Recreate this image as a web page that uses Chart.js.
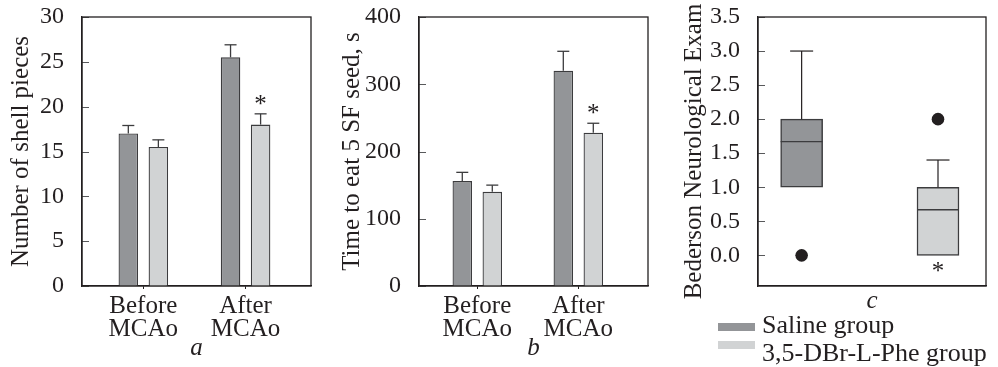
<!DOCTYPE html>
<html>
<head>
<meta charset="utf-8">
<script src="https://cdn.jsdelivr.net/npm/chart.js@4.4.1/dist/chart.umd.min.js"></script>
<style>
  html, body { margin: 0; padding: 0; background: #fff; }
  #wrap { position: relative; width: 998px; height: 367px; overflow: hidden; font-family: "Liberation Serif", "Times New Roman", serif; color: #231f20; }
  canvas { position: absolute; top: 0; }
  #chartA { left: 0; }
  #chartB { left: 330px; }
  #chartC { left: 660px; }
  .legend-swatch { position: absolute; left: 718px; width: 37px; height: 8px; }
  .legend-text { position: absolute; left: 762px; font-size: 26px; line-height: 28px; white-space: nowrap; }
</style>
</head>
<body>
<div id="wrap">
  <canvas id="chartA" width="330" height="367"></canvas>
  <canvas id="chartB" width="330" height="367"></canvas>
  <canvas id="chartC" width="338" height="367"></canvas>
  <div id="legend"></div>
</div>
<script>
const categories = [['Before', 'MCAo'], ['After', 'MCAo']];
const groups = ['Saline group', '3,5-DBr-L-Phe group'];
const groupColors = ['#939598', '#d1d3d4'];

// a - number of shell pieces
const shellSaline = [17.0, 25.5];
const shellSalineErr = [0.9, 1.4];
const shellDbr = [15.5, 18.0];
const shellDbrErr = [0.8, 1.2];
const shellSignif = [false, true];

// b - time to eat 5 SF seeds
const seedSaline = [156, 320];
const seedSalineErr = [13, 29];
const seedDbr = [140, 228];
const seedDbrErr = [10, 14];
const seedSignif = [false, true];

// c - Bederson neurological exam (box plot)
const bedMin = [1.0, 0.0];
const bedQ1 = [1.0, 0.0];
const bedMedian = [1.67, 0.67];
const bedQ3 = [2.0, 1.0];
const bedMax = [3.0, 1.4];
const bedOutliers = [[0.0], [2.0]];
const bedSignif = [false, true];

const INK = '#231f20';
const EDGE = '#3c3c3e';
const FONT = '"Liberation Serif", "Times New Roman", serif';

Chart.defaults.font.family = FONT;
Chart.defaults.color = INK;

const toPoints = values => values.map((v, i) => ({ x: i, y: v }));

function strokeLine(ctx, x1, y1, x2, y2) {
    ctx.beginPath();
    ctx.moveTo(x1, y1);
    ctx.lineTo(x2, y2);
    ctx.stroke();
}

// box round the plot + short ticks pointing inside
const framePlugin = {
    id: 'plotFrame',
    afterDraw(chart) {
        const ctx = chart.ctx;
        const a = chart.chartArea;
        const y = chart.scales.y;
        ctx.save();
        ctx.strokeStyle = '#58595b';
        ctx.lineWidth = 1;
        y.ticks.forEach((t, i) => {
            const py = Math.round(y.getPixelForTick(i)) + 0.5;
            strokeLine(ctx, a.left, py, a.left + 7, py);
        });
        ctx.strokeStyle = INK;
        ctx.lineWidth = 1.3;
        ctx.strokeRect(a.left, a.top, a.right - a.left, a.bottom - a.top);
        ctx.restore();
    }
};

const errorBarPlugin = {
    id: 'errorBars',
    afterDatasetsDraw(chart, args, opts) {
        const { ctx, scales: { y } } = chart;
        ctx.save();
        ctx.strokeStyle = EDGE;
        ctx.lineWidth = 1.3;
        ctx.fillStyle = INK;
        ctx.font = '25px ' + FONT;
        ctx.textAlign = 'center';
        ctx.textBaseline = 'alphabetic';
        chart.data.datasets.forEach((ds, i) => {
            const errs = opts.errors[i];
            chart.getDatasetMeta(i).data.forEach((bar, j) => {
                const top = y.getPixelForValue(ds.data[j].y + errs[j]);
                strokeLine(ctx, bar.x, bar.y, bar.x, top);
                strokeLine(ctx, bar.x - 6, top, bar.x + 6, top);
                if (i === opts.markDataset && opts.signif[j]) {
                    ctx.fillText('*', bar.x, top - 2);
                }
            });
        });
        ctx.restore();
    }
};

// whiskers, medians and the significance mark of panel c
const boxPlugin = {
    id: 'boxParts',
    afterDatasetsDraw(chart) {
        const { ctx, scales: { y } } = chart;
        const boxes = chart.getDatasetMeta(0).data;
        ctx.save();
        ctx.fillStyle = INK;
        ctx.font = '25px ' + FONT;
        ctx.textAlign = 'center';
        boxes.forEach((box, i) => {
            const cx = box.x;
            const half = box.width / 2;
            const q1 = y.getPixelForValue(bedQ1[i]);
            const q3 = y.getPixelForValue(bedQ3[i]);
            const lo = y.getPixelForValue(bedMin[i]);
            const hi = y.getPixelForValue(bedMax[i]);

            ctx.strokeStyle = EDGE;
            ctx.lineWidth = 1.3;
            const med = y.getPixelForValue(bedMedian[i]);
            strokeLine(ctx, cx - half, med, cx + half, med);

            ctx.strokeStyle = INK;
            ctx.lineWidth = 1.2;
            if (hi < q3 - 0.5) {
                strokeLine(ctx, cx, q3, cx, hi);
                strokeLine(ctx, cx - 11.5, hi, cx + 11.5, hi);
            }
            if (lo > q1 + 0.5) {
                strokeLine(ctx, cx, q1, cx, lo);
                strokeLine(ctx, cx - 11.5, lo, cx + 11.5, lo);
            }
            if (bedSignif[i]) {
                ctx.fillText('*', cx, lo + 24);
            }
        });
        ctx.restore();
    }
};

function barPanel(id, cfg) {
    return new Chart(document.getElementById(id), {
        type: 'bar',
        data: {
            datasets: [
                { label: groups[0], data: toPoints(cfg.saline), backgroundColor: groupColors[0] },
                { label: groups[1], data: toPoints(cfg.dbr), backgroundColor: groupColors[1] }
            ]
        },
        options: {
            responsive: false,
            animation: false,
            layout: { padding: cfg.padding },
            datasets: {
                bar: { borderColor: EDGE, borderWidth: 1.3, categoryPercentage: cfg.catPct, barPercentage: 0.65 }
            },
            plugins: {
                legend: { display: false },
                tooltip: { enabled: false },
                errorBars: { errors: cfg.errors, signif: cfg.signif, markDataset: 1 }
            },
            scales: {
                x: {
                    type: 'linear',
                    min: cfg.xMin,
                    max: cfg.xMax,
                    offset: false,
                    afterFit: s => { s.height = 81; },
                    border: { display: true, color: INK, width: 1.3 },
                    grid: { drawOnChartArea: false, tickLength: 3, color: INK, offset: false },
                    ticks: {
                        stepSize: 1,
                        includeBounds: false,
                        autoSkip: false,
                        maxRotation: 0,
                        padding: 6,
                        font: { size: 25, lineHeight: 0.92 },
                        callback: v => categories[v]
                    },
                    title: {
                        display: true,
                        text: cfg.letter,
                        font: { size: 25, style: 'italic' },
                        padding: { top: 0, bottom: 4 }
                    }
                },
                y: {
                    min: 0,
                    max: cfg.yMax,
                    afterFit: s => { s.width = cfg.yWidth; },
                    border: { display: true, color: INK, width: 1.3 },
                    grid: { display: false },
                    ticks: {
                        stepSize: cfg.yStep,
                        includeBounds: false,
                        autoSkip: false,
                        padding: 10,
                        font: { size: 24, lineHeight: 0.5 }
                    },
                    title: {
                        display: true,
                        text: cfg.yTitle,
                        font: { size: 25 },
                        padding: { top: cfg.titlePad, bottom: 0 }
                    }
                }
            }
        },
        plugins: [framePlugin, errorBarPlugin]
    });
}

barPanel('chartA', {
    saline: shellSaline,
    dbr: shellDbr,
    errors: [shellSalineErr, shellDbrErr],
    signif: shellSignif,
    letter: 'a',
    yTitle: 'Number of shell pieces',
    yMax: 30,
    yStep: 5,
    yWidth: 82,
    titlePad: 6,
    xMin: -0.6,
    xMax: 1.64,
    catPct: 0.588,
    padding: { left: 0, top: 17, right: 19, bottom: 0 }
});

barPanel('chartB', {
    saline: seedSaline,
    dbr: seedDbr,
    errors: [seedSalineErr, seedDbrErr],
    signif: seedSignif,
    letter: 'b',
    yTitle: 'Time to eat 5 SF seed, s',
    yMax: 400,
    yStep: 100,
    yWidth: 87,
    titlePad: 5,
    xMin: -0.577,
    xMax: 1.69,
    catPct: 0.594,
    padding: { left: 2, top: 17, right: 12, bottom: 0 }
});

new Chart(document.getElementById('chartC'), {
    type: 'bar',
    data: {
        datasets: [
            {
                type: 'bar',
                data: bedQ1.map((q, i) => ({ x: i, y: [q, bedQ3[i]] })),
                backgroundColor: groupColors,
                borderColor: EDGE,
                borderWidth: 1.5,
                borderSkipped: false,
                barThickness: 42
            },
            {
                type: 'scatter',
                data: bedOutliers.flatMap((vals, i) => vals.map(v => ({ x: i, y: v }))),
                pointRadius: 6.3,
                backgroundColor: INK,
                borderWidth: 0
            }
        ]
    },
    options: {
        responsive: false,
        animation: false,
        layout: { padding: { left: 10, top: 17, right: 12, bottom: 50 } },
        plugins: { legend: { display: false }, tooltip: { enabled: false } },
        scales: {
            x: {
                type: 'linear',
                min: -0.32,
                max: 1.352,
                offset: false,
                afterFit: s => { s.height = 31; },
                border: { display: true, color: INK, width: 1.3 },
                grid: { display: false },
                ticks: { display: false },
                title: {
                    display: true,
                    text: 'c',
                    font: { size: 25, style: 'italic' },
                    padding: { top: 0, bottom: 1 }
                }
            },
            y: {
                min: -0.45,
                max: 3.5,
                afterFit: s => { s.width = 88; },
                border: { display: true, color: INK, width: 1.3 },
                grid: { display: false },
                ticks: {
                    stepSize: 0.5,
                    includeBounds: false,
                    autoSkip: false,
                    padding: 10,
                    font: { size: 24, lineHeight: 0.5 },
                    callback: v => v.toFixed(1)
                },
                title: {
                    display: true,
                    text: 'Bederson Neurological Exam',
                    font: { size: 25 },
                    padding: { top: 9, bottom: 0 }
                }
            }
        }
    },
    plugins: [framePlugin, boxPlugin]
});

function buildLegend() {
    const holder = document.getElementById('legend');
    const swatchTop = [323, 341];
    const textTop = [311, 339];
    groups.forEach((name, i) => {
        const sw = document.createElement('div');
        sw.className = 'legend-swatch';
        sw.style.top = swatchTop[i] + 'px';
        sw.style.background = groupColors[i];
        const label = document.createElement('div');
        label.className = 'legend-text';
        label.style.top = textTop[i] + 'px';
        label.textContent = name;
        holder.appendChild(sw);
        holder.appendChild(label);
    });
}

buildLegend();
</script>
</body>
</html>
